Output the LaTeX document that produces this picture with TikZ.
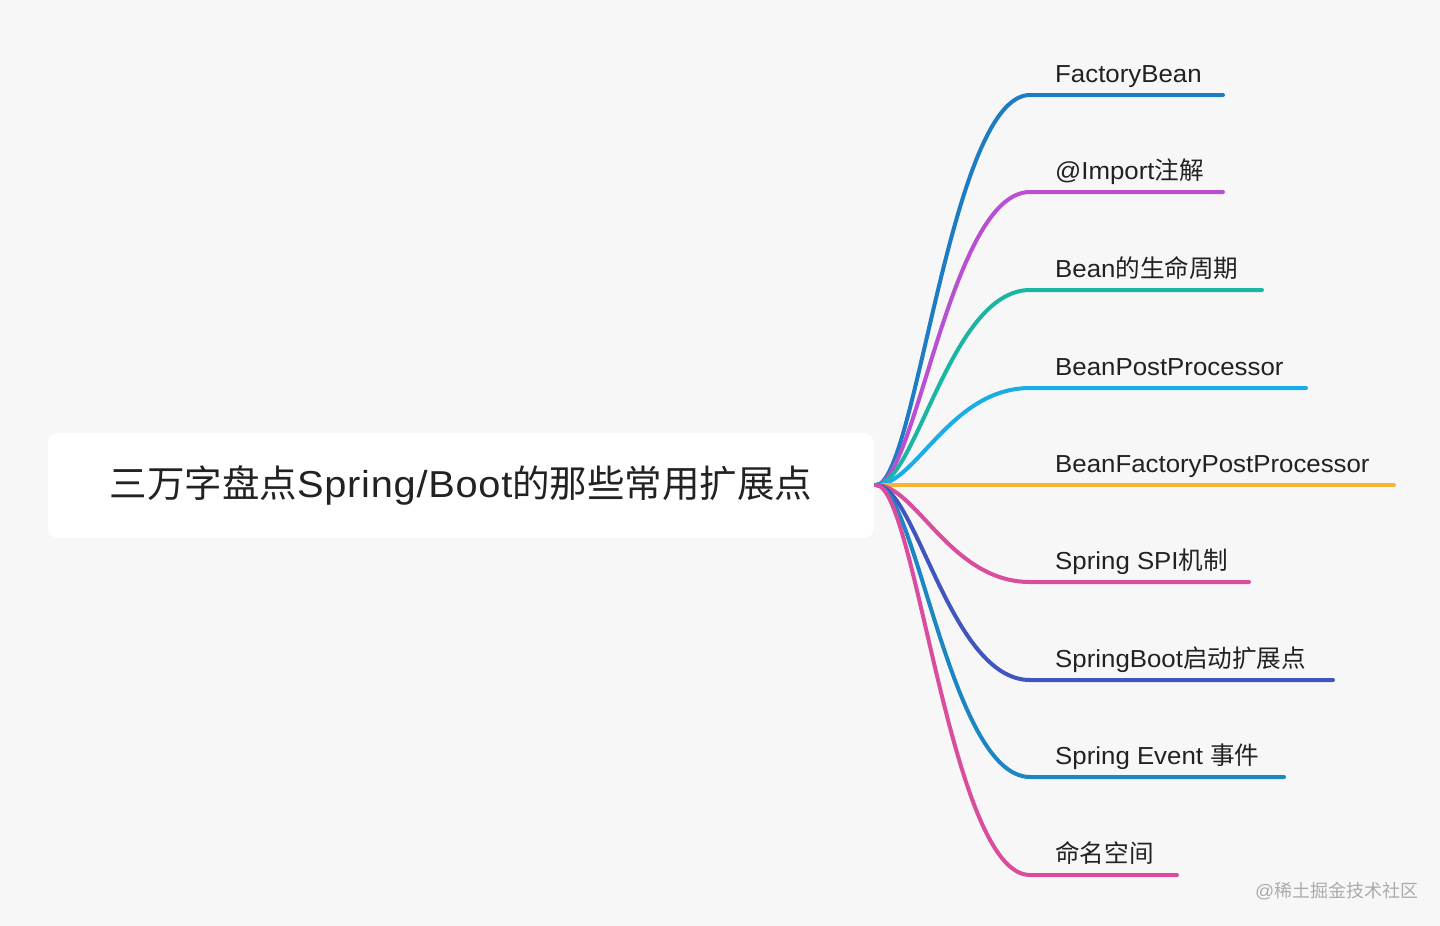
\documentclass[tikz,border=0pt]{standalone}
\usepackage{fontspec}
\setmainfont[FakeStretch=1.05]{Liberation Sans}
\newfontfamily\lattitle[FakeStretch=1.06,LetterSpace=2]{Liberation Sans}
\newfontfamily\cjk{Noto Sans CJK SC}
\definecolor{bg}{HTML}{F7F7F8}
\definecolor{txt}{HTML}{222222}
\definecolor{cA}{HTML}{1E7DC2}
\definecolor{cB}{HTML}{B94FD1}
\definecolor{cC}{HTML}{1BB5A3}
\definecolor{cD}{HTML}{1AADE5}
\definecolor{cE}{HTML}{F5B532}
\definecolor{cF}{HTML}{DA4C9E}
\definecolor{cG}{HTML}{4155BE}
\definecolor{cH}{HTML}{1C86C3}
\definecolor{cI}{HTML}{DA4C9E}
\definecolor{wm}{HTML}{ABABAB}
\begin{document}
\begin{tikzpicture}[x=1pt,y=-1pt,
  branch/.style={line width=4pt,line cap=round,line join=round},
  lbl/.style={anchor=base west,inner sep=0pt,text=txt,font=\fontsize{24.6}{30}\selectfont},
  rootbox/.style={fill=white,rounded corners=10pt,minimum width=826pt,minimum height=105pt,inner sep=0pt,text=txt,font=\fontsize{37.5}{45}\selectfont}]
\fill[bg] (0,0) rectangle (1440,926);
\useasboundingbox (0,0) rectangle (1440,926);
\node[rootbox] (root) at (461,485.5) {{\cjk 三万字盘点}{\lattitle Spring/Boot}{\cjk 的那些常用扩展点}};
\coordinate (o) at (876,485);
\foreach \i/\y/\e/\c in {1/95/1223/cA,2/192/1223/cB,3/290/1262/cC,4/388/1306/cD,5/485/1394/cE,6/582/1249/cF,7/680/1333/cG,8/777/1284/cH,9/875/1177/cI}{
  \coordinate (a\i) at (1030,\y);
  \coordinate (e\i) at (\e,\y);
  \draw[branch,draw=\c] (o) .. controls +(40,0) and +(-80,0) .. (a\i) -- (e\i);
}
\node[lbl] (l1) at (1055,82) {FactoryBean};
\node[lbl] (l2) at (1055,179) {@Import{\cjk 注解}};
\node[lbl] (l3) at (1055,277) {Bean{\cjk 的生命周期}};
\node[lbl] (l4) at (1055,375) {BeanPostProcessor};
\node[lbl] (l5) at (1055,472) {BeanFactoryPostProcessor};
\node[lbl] (l6) at (1055,569) {Spring SPI{\cjk 机制}};
\node[lbl] (l7) at (1055,667) {SpringBoot{\cjk 启动扩展点}};
\node[lbl] (l8) at (1055,764) {Spring Event {\cjk 事件}};
\node[lbl] (l9) at (1055,862) {{\cjk 命名空间}};
\node[anchor=base west,inner sep=0pt,text=wm,font=\fontsize{18}{22}\selectfont] (wm) at (1255,897) {@{\cjk 稀土掘金技术社区}};
\end{tikzpicture}
\end{document}
